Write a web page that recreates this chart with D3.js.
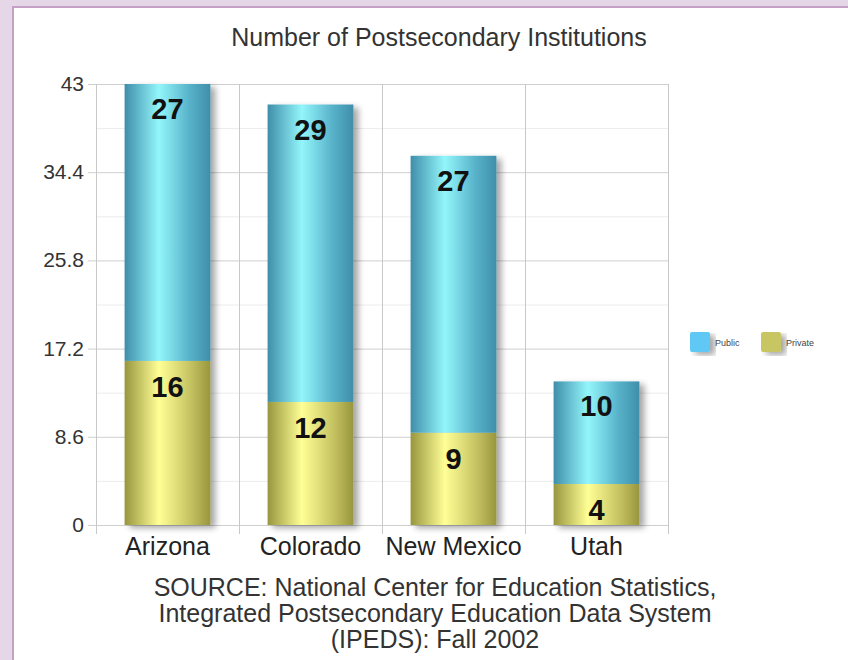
<!DOCTYPE html>
<html>
<head>
<meta charset="utf-8">
<script src="https://cdn.jsdelivr.net/npm/d3@7"></script>
<style>
  body { margin: 0; background: #e6d7e8; }
  svg { display: block; font-family: "Liberation Sans", Arial, sans-serif; }
</style>
</head>
<body>
<svg id="chart" width="848" height="660"></svg>
<script>
const states = ["Arizona", "Colorado", "New Mexico", "Utah"];
const privateCounts = [16, 12, 9, 4];
const publicCounts = [27, 29, 27, 10];
const yTicks = [0, 8.6, 17.2, 25.8, 34.4, 43];
const sourceLines = [
  "SOURCE: National Center for Education Statistics,",
  "Integrated Postsecondary Education Data System",
  "(IPEDS): Fall 2002"
];

const svg = d3.select("svg#chart");
const margin = { left: 96, right: 668, top: 84, bottom: 525 };

// white panel with purple border on top/left
svg.append("rect").attr("x", 13).attr("y", 7).attr("width", 900).attr("height", 700)
  .attr("fill", "#fff").attr("stroke", "#c4a0c6").attr("stroke-width", 2);

const defs = svg.append("defs");
function barGradient(id, edge, mid, light) {
  const g = defs.append("linearGradient").attr("id", id)
    .attr("x1", "0%").attr("x2", "100%").attr("y1", "0%").attr("y2", "0%");
  g.append("stop").attr("offset", "0%").attr("stop-color", edge);
  g.append("stop").attr("offset", "40%").attr("stop-color", light);
  g.append("stop").attr("offset", "75%").attr("stop-color", mid);
  g.append("stop").attr("offset", "100%").attr("stop-color", edge);
}
barGradient("gPublic", "#3f8eaa", "#58b3ca", "#93f6fb");
barGradient("gPrivate", "#98963e", "#c8c664", "#ffff96");

const shadow = defs.append("filter").attr("id", "shadow")
  .attr("x", "-20%").attr("y", "-10%").attr("width", "150%").attr("height", "130%");
shadow.append("feGaussianBlur").attr("in", "SourceAlpha").attr("stdDeviation", 3);
shadow.append("feOffset").attr("dx", 5).attr("dy", 3).attr("result", "b");
shadow.append("feComponentTransfer").append("feFuncA").attr("type", "linear").attr("slope", 0.35);
const merge = shadow.append("feMerge");
merge.append("feMergeNode");
merge.append("feMergeNode").attr("in", "SourceGraphic");

const x = d3.scaleBand().domain(states).range([margin.left, margin.right]).paddingInner(0).paddingOuter(0);
const y = d3.scaleLinear().domain([0, 43]).range([margin.bottom, margin.top]);

// title
svg.append("text").attr("x", 439).attr("y", 46).attr("text-anchor", "middle")
  .attr("font-size", 25).attr("fill", "#333").text("Number of Postsecondary Institutions");

// minor gridlines
const grid = svg.append("g");
const minor = yTicks.slice(1).map(t => t - 4.3);
grid.selectAll("line.minor").data(minor).enter().append("line")
  .attr("x1", margin.left).attr("x2", margin.right)
  .attr("y1", d => y(d) + 0.5).attr("y2", d => y(d) + 0.5)
  .attr("stroke", "#ececec");
grid.selectAll("line.major").data(yTicks).enter().append("line")
  .attr("x1", margin.left - 8).attr("x2", margin.right)
  .attr("y1", d => y(d) + 0.5).attr("y2", d => y(d) + 0.5)
  .attr("stroke", "#cfcfcf");
const vx = states.map(s => x(s)).concat([margin.right]);
grid.selectAll("line.v").data(vx).enter().append("line")
  .attr("x1", d => d + 0.5).attr("x2", d => d + 0.5)
  .attr("y1", margin.top).attr("y2", margin.bottom + 9)
  .attr("stroke", "#c8c8c8");

// y labels
svg.selectAll("text.ytick").data(yTicks).enter().append("text")
  .attr("x", 84).attr("y", d => y(d) + 7).attr("text-anchor", "end")
  .attr("font-size", 21).attr("fill", "#333").text(d => d);

// bars
const bw = x.bandwidth() * 0.6;
const bars = svg.append("g");
states.forEach((s, i) => {
  const bx = x(s) + (x.bandwidth() - bw) / 2;
  const g = bars.append("g").attr("filter", "url(#shadow)");
  const p0 = privateCounts[i], p1 = publicCounts[i];
  g.append("rect").attr("x", bx).attr("width", bw)
    .attr("y", y(p0)).attr("height", y(0) - y(p0)).attr("fill", "url(#gPrivate)");
  g.append("rect").attr("x", bx).attr("width", bw)
    .attr("y", y(p0 + p1)).attr("height", y(p0) - y(p0 + p1)).attr("fill", "url(#gPublic)");
});

// value labels
const labels = svg.append("g").attr("font-size", 29).attr("font-weight", "bold")
  .attr("text-anchor", "middle").attr("fill", "#111");
states.forEach((s, i) => {
  const cx = x(s) + x.bandwidth() / 2;
  const p0 = privateCounts[i], p1 = publicCounts[i];
  labels.append("text").attr("x", cx).attr("y", y(p0) + 36).text(p0);
  labels.append("text").attr("x", cx).attr("y", y(p0 + p1) + 35).text(p1);
});

// x labels
svg.selectAll("text.xl").data(states).enter().append("text")
  .attr("x", d => x(d) + x.bandwidth() / 2).attr("y", 555)
  .attr("text-anchor", "middle").attr("font-size", 25).attr("fill", "#222").text(d => d);

// source
svg.selectAll("text.src").data(sourceLines).enter().append("text")
  .attr("x", 435).attr("y", (d, i) => 596 + i * 26)
  .attr("text-anchor", "middle").attr("font-size", 25).attr("fill", "#333").text(d => d);

// legend
const legend = svg.append("g").attr("font-size", 9).attr("fill", "#444");
[["Public", "#5ec8f5", 690], ["Private", "#c8c662", 761]].forEach(([name, col, lx]) => {
  legend.append("rect").attr("x", lx).attr("y", 332).attr("width", 20).attr("height", 20)
    .attr("rx", 2).attr("fill", col).attr("filter", "url(#shadow)");
  legend.append("text").attr("x", lx + 25).attr("y", 346).text(name);
});
</script>
</body>
</html>
